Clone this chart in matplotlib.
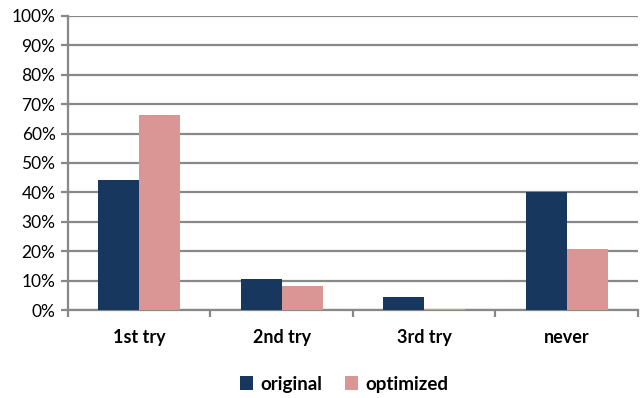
import matplotlib.pyplot as plt
import numpy as np

plt.rcParams['font.family'] = ['Lato', 'DejaVu Sans']

# Share of tasks solved per attempt
categories = ['1st try', '2nd try', '3rd try', 'never']
original = [44.2, 10.4, 4.6, 40.0]
optimized = [66.4, 8.2, 0.5, 20.9]

navy = '#17375E'
pink = '#D99694'
grid_gray = '#888888'

fig = plt.figure(figsize=(6.44, 3.98), dpi=100)
ax = fig.add_axes([0.1056, 0.221, 0.885, 0.739])

x = np.arange(len(categories))
w = 0.2875
ax.bar(x - w / 2, np.array(original) / 100, w, color=navy, label='original', zorder=3)
ax.bar(x + w / 2, np.array(optimized) / 100, w, color=pink, label='optimized', zorder=3)

ax.set_xlim(-0.5, len(categories) - 0.5)
ax.set_ylim(0, 1)
ax.set_yticks(np.arange(0, 1.01, 0.1))
ax.set_yticklabels([f'{int(round(v * 100))}%' for v in np.arange(0, 1.01, 0.1)], fontsize=12.5)
ax.yaxis.grid(True, color=grid_gray, linewidth=1.6, zorder=0)

# category labels sit between the boundary ticks
ax.set_xticks(x)
ax.set_xticklabels(categories, fontsize=13, fontweight='bold')
ax.tick_params(axis='x', length=0, pad=14)
ax.set_xticks(np.arange(-0.5, len(categories)), minor=True)
ax.tick_params(axis='x', which='minor', length=5, width=1.6, color=grid_gray)
ax.tick_params(axis='y', length=5, width=1.6, color=grid_gray, pad=4)

for side in ['top', 'right']:
    ax.spines[side].set_visible(False)
for side in ['left', 'bottom']:
    ax.spines[side].set_color(grid_gray)
    ax.spines[side].set_linewidth(1.6)

leg = fig.legend(loc='center', bbox_to_anchor=(0.535, 0.035), ncol=2, frameon=False,
                 prop={'size': 13.5, 'weight': 'bold'}, handlelength=0.7, handleheight=0.7,
                 handletextpad=0.4, columnspacing=1.2)

fig.savefig('out.png', dpi=100)
